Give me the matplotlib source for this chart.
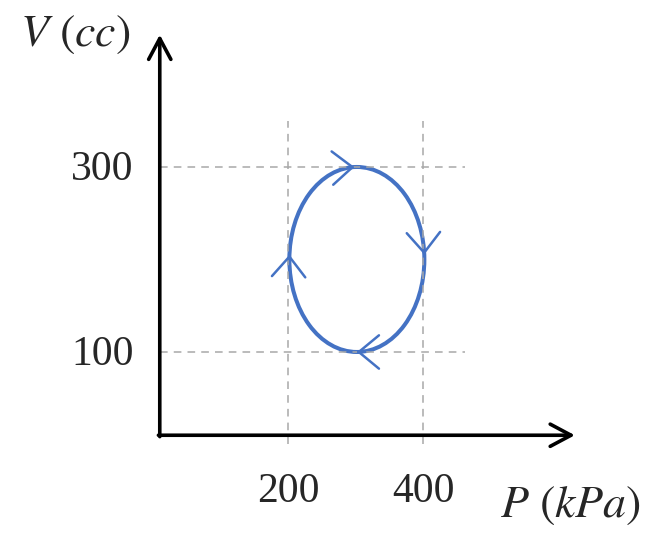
import numpy as np
import matplotlib.pyplot as plt
from matplotlib.patches import Ellipse

plt.rcParams['mathtext.fontset'] = 'stix'
plt.rcParams['font.family'] = ['Liberation Serif', 'DejaVu Serif']

# cycle in the P-V plane
loop_center = (302, 200)   # (P kPa, V cc)
loop_size = (200, 200)     # full width in P, full height in V
arrow_angles = [92, 3, 270, 177]   # where the direction chevrons sit (deg)
p_ticks = [200, 400]
v_ticks = [100, 300]
p_labels = ['200', '400']
v_labels = ['100', '300']

blue = '#4472c4'
grey = '#a8a8a8'
ink = '#262626'

fig = plt.figure(figsize=(6.45, 5.37), dpi=100)
ax = fig.add_axes([0, 0, 1, 1])
ax.set_xlim(-226.7, 728.9)
ax.set_ylim(-100, 480.5)
ax.axis('off')

# dashed guide lines
for p in p_ticks:
    ax.plot([p, p], [0, 350], ls=(0, (5, 4)), color=grey, lw=1.1)
for v in v_ticks:
    ax.plot([10, 462], [v, v], ls=(0, (5, 4)), color=grey, lw=1.1)

# axes with arrows
head = '->,head_length=0.75,head_width=0.4'
ax.annotate('', xy=(625, 10), xytext=(8, 10),
            arrowprops=dict(arrowstyle=head, lw=2.6, color='black',
                            shrinkA=0, shrinkB=0, mutation_scale=20))
ax.annotate('', xy=(10, 443), xytext=(10, 8.5),
            arrowprops=dict(arrowstyle=head, lw=2.6, color='black',
                            shrinkA=0, shrinkB=0, mutation_scale=20))

# the loop
ax.add_patch(Ellipse(loop_center, loop_size[0], loop_size[1],
                     fill=False, ec=blue, lw=2.9))

# clockwise direction chevrons
a = loop_size[0] / 2
b = loop_size[1] / 2
for ang in arrow_angles:
    t = np.radians(ang)
    tip = (loop_center[0] + a * np.cos(t), loop_center[1] + b * np.sin(t))
    d = (a * np.sin(t), -b * np.cos(t))   # clockwise tangent
    tail = (tip[0] - 0.05 * d[0], tip[1] - 0.05 * d[1])
    ax.annotate('', xy=tip, xytext=tail,
                arrowprops=dict(arrowstyle='->,head_length=1.45,head_width=1.2',
                                lw=1.8, color=blue, shrinkA=0, shrinkB=0,
                                mutation_scale=10))

# tick labels
for p, lab in zip(p_ticks, p_labels):
    ax.text(p, -51, lab, ha='center', va='center', fontsize=30, color=ink)
for v, lab in zip(v_ticks, v_labels):
    ax.text(-75, v - 3, lab, ha='center', va='center', fontsize=30, color=ink)

# axis titles
ax.text(-115, 443, r'$V\ (cc)$', ha='center', va='center', fontsize=33, color=ink)
ax.text(618, -66, r'$P\ (kPa)$', ha='center', va='center', fontsize=33, color=ink)

fig.savefig('out.png', dpi=100)
